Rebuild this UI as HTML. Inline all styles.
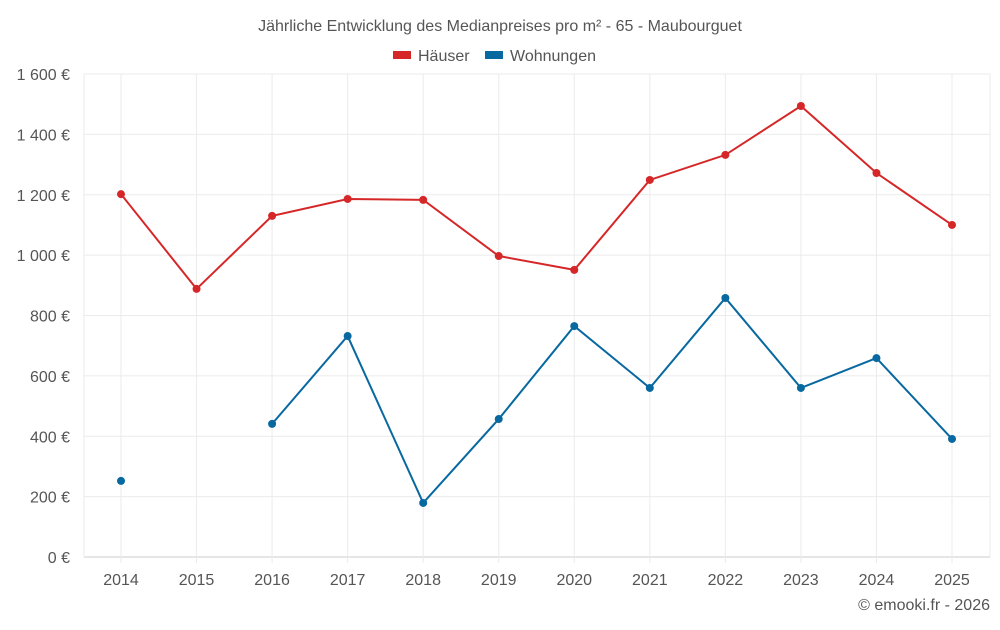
<!DOCTYPE html>
<html><head><meta charset="utf-8"><style>
body{margin:0;background:#fff;font-family:"Liberation Sans",sans-serif}
svg text{font-family:"Liberation Sans",sans-serif}
</style></head><body>
<svg id="c" width="1000" height="625">
<text x="500" y="31" text-anchor="middle" font-size="16" fill="#555">Jährliche Entwicklung des Medianpreises pro m² - 65 - Maubourguet</text>
<g><rect x="393" y="51" width="18" height="8" fill="#d62728"/><text x="418" y="61" font-size="16" fill="#555">Häuser</text></g>
<g><rect x="485" y="51" width="18" height="8" fill="#0868a0"/><text x="510" y="61" font-size="16" fill="#555">Wohnungen</text></g>
<g id="grid"></g><g id="marks"></g>
<text x="990" y="610" text-anchor="end" font-size="16" fill="#555">© emooki.fr - 2026</text>
</svg>
<script>
const years=[2014,2015,2016,2017,2018,2019,2020,2021,2022,2023,2024,2025];
const haeuser=[1202,888,1130,1186,1183,997,951,1249,1332,1494,1272,1100];
const wohnungen=[252,null,441,732,179,457,765,560,858,560,659,391];
const yTicks=[0,200,400,600,800,1000,1200,1400,1600];
const yLabels=["0 €","200 €","400 €","600 €","800 €","1 000 €","1 200 €","1 400 €","1 600 €"];
const NS="http://www.w3.org/2000/svg";
const L=84,R=990,T=74,B=557;
const x=i=>121+i*(952-121)/(years.length-1);
const y=v=>B-(v/1600)*(B-T);
const g=document.getElementById('grid'),m=document.getElementById('marks');
function el(t,a,p){const e=document.createElementNS(NS,t);for(const k in a)e.setAttribute(k,a[k]);p.appendChild(e);return e;}
yTicks.forEach((v,i)=>{
 const ln=el('line',{x1:L,x2:R,y1:y(v),y2:y(v),stroke:i==0?'#ccc':'#ebebeb'},g);
 
 
 const t=el('text',{x:70,y:y(v)+6,'text-anchor':'end','font-size':16,fill:'#555'},g);t.textContent=yLabels[i];
 
 
});
[L,R].forEach(px=>{el('line',{x1:px,x2:px,y1:T,y2:B,stroke:'#ebebeb'},g);});
years.forEach((yr,i)=>{
 const ln=el('line',{x1:x(i),x2:x(i),y1:T,y2:B+6,stroke:'#ebebeb'},g);
 
 
 const t=el('text',{x:x(i),y:585,'text-anchor':'middle','font-size':16,fill:'#555'},g);t.textContent=yr;
 
 
});
function series(d,col,name){
 let segs=[],cur=[];
 d.forEach((v,i)=>{if(v==null){if(cur.length)segs.push(cur);cur=[];}else cur.push(x(i)+','+y(v));});
 if(cur.length)segs.push(cur);
 segs.forEach(s=>{if(s.length>1){const p=el('polyline',{points:s.join(' '),fill:'none',stroke:col,'stroke-width':2},m);
  
  }});
 d.forEach((v,i)=>{if(v==null)return;const c=el('circle',{cx:x(i),cy:y(v),r:4,fill:col},m);
  
  });
}
series(haeuser,'#d62728','haeuser');
series(wohnungen,'#0868a0','wohnungen');
</script>
</body></html>
